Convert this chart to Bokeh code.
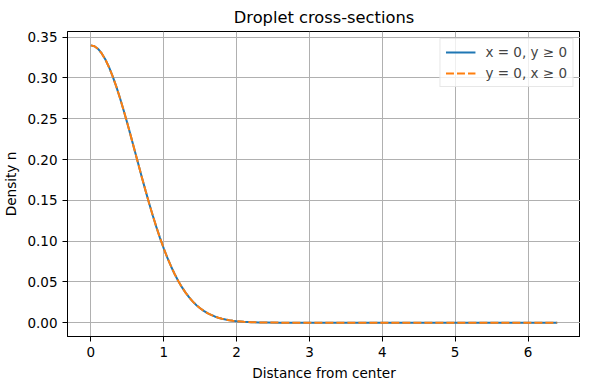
from bokeh.plotting import figure
from bokeh.models import FixedTicker, NumeralTickFormatter, Legend, LegendItem
from bokeh.embed import file_html
from bokeh.resources import INLINE

# Distance from center and density
r_vals = [0.0, 0.05, 0.1, 0.15, 0.2, 0.25, 0.3, 0.35, 0.4, 0.45, 0.5, 0.55, 0.6,
          0.65, 0.7, 0.75, 0.8, 0.85, 0.9, 0.95, 1.0, 1.05, 1.1, 1.15, 1.2, 1.25,
          1.3, 1.35, 1.4, 1.45, 1.5, 1.55, 1.6, 1.65, 1.7, 1.75, 1.8, 1.85, 1.9,
          1.95, 2.0, 2.1, 2.2, 2.3, 2.4, 2.6, 3.0, 3.5, 4.0, 4.5, 5.0, 5.5, 6.0, 6.4]
n_y_axis = [0.3400, 0.3389, 0.3356, 0.3301, 0.3226, 0.3132, 0.3020, 0.2894, 0.2755,
            0.2605, 0.2447, 0.2284, 0.2117, 0.1950, 0.1784, 0.1622, 0.1465, 0.1314,
            0.1171, 0.1037, 0.0912, 0.0797, 0.0692, 0.0597, 0.0511, 0.0435, 0.0368,
            0.0309, 0.0258, 0.0214, 0.0176, 0.0144, 0.0117, 0.0095, 0.0076, 0.0060,
            0.0048, 0.0038, 0.0029, 0.0023, 0.0018, 0.0010, 0.0005, 0.0003, 0.0002,
            0.0, 0.0, 0.0, 0.0, 0.0, 0.0, 0.0, 0.0, 0.0]
n_x_axis = [0.3400, 0.3389, 0.3356, 0.3301, 0.3226, 0.3132, 0.3020, 0.2894, 0.2755,
            0.2605, 0.2447, 0.2284, 0.2117, 0.1950, 0.1784, 0.1622, 0.1465, 0.1314,
            0.1171, 0.1037, 0.0912, 0.0797, 0.0692, 0.0597, 0.0511, 0.0435, 0.0368,
            0.0309, 0.0258, 0.0214, 0.0176, 0.0144, 0.0117, 0.0095, 0.0076, 0.0060,
            0.0048, 0.0038, 0.0029, 0.0023, 0.0018, 0.0010, 0.0005, 0.0003, 0.0002,
            0.0, 0.0, 0.0, 0.0, 0.0, 0.0, 0.0, 0.0, 0.0]
labels = ["x = 0, y \u2265 0", "y = 0, x \u2265 0"]
x_ticks = [0, 1, 2, 3, 4, 5, 6]
y_ticks = [0.0, 0.05, 0.10, 0.15, 0.20, 0.25, 0.30, 0.35]

FONT = "DejaVu Sans"

p = figure(width=580, height=383, x_range=(-0.32, 6.72), y_range=(-0.017, 0.357),
           output_backend="svg", toolbar_location=None,
           title="Droplet cross-sections",
           min_border_left=62, min_border_right=0, min_border_top=24, min_border_bottom=30)

p.title.align = "center"
p.title.text_font = FONT
p.title.text_font_size = "16.3px"
p.title.text_font_style = "normal"
p.title.text_color = "black"

p.outline_line_color = "black"
p.outline_line_width = 1
p.outline_line_alpha = 1.0

for ax in (p.xaxis[0], p.yaxis[0]):
    ax.axis_line_color = "black"
    ax.major_tick_line_color = "black"
    ax.major_tick_out = 5
    ax.major_tick_in = 0
    ax.minor_tick_line_color = None
    ax.major_label_text_font = FONT
    ax.major_label_text_font_size = "13.5px"
    ax.major_label_text_color = "black"
    ax.major_label_standoff = 5
    ax.axis_label_text_font = FONT
    ax.axis_label_text_font_size = "13.6px"
    ax.axis_label_text_font_style = "normal"
    ax.axis_label_text_color = "black"

p.xaxis.ticker = FixedTicker(ticks=x_ticks)
p.yaxis.ticker = FixedTicker(ticks=y_ticks)
p.yaxis.formatter = NumeralTickFormatter(format="0.00")
p.xaxis.axis_label = "Distance from center"
p.yaxis.axis_label = "Density n"
p.xaxis.axis_label_standoff = 5
p.yaxis.axis_label_standoff = 5

p.grid.grid_line_color = "#b0b0b0"
p.grid.grid_line_width = 1

l1 = p.line(r_vals, n_y_axis, line_color="#1f77b4", line_width=2)
l2 = p.line(r_vals, n_x_axis, line_color="#ff7f0e", line_width=2, line_dash="8 3")

legend = Legend(items=[LegendItem(label=labels[0], renderers=[l1]),
                       LegendItem(label=labels[1], renderers=[l2])],
                location="top_right")
legend.label_text_font = FONT
legend.label_text_font_size = "13.5px"
legend.border_line_color = "#d0d0d0"
legend.background_fill_alpha = 0.8
legend.glyph_width = 30
legend.glyph_height = 16
legend.label_height = 16
legend.label_standoff = 10
legend.spacing = 5
legend.padding = 5
legend.margin = 7
p.add_layout(legend)

open("out.html", "w").write(file_html(p, INLINE))
